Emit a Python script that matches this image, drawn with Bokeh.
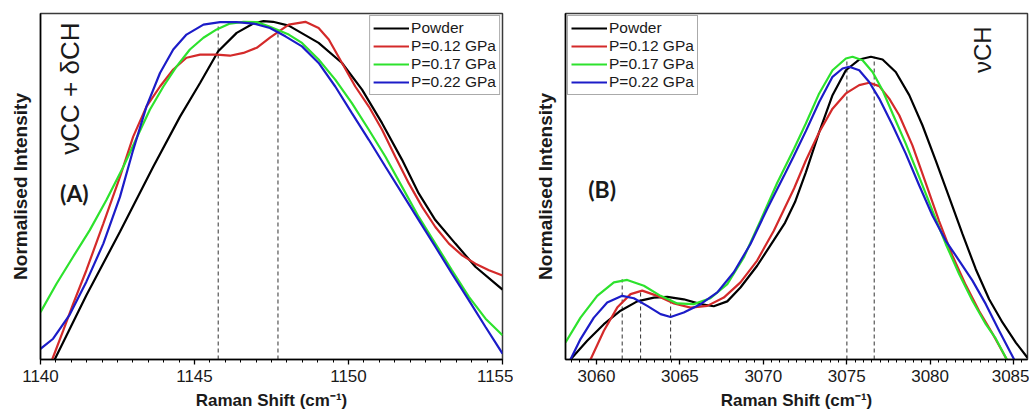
from bokeh.plotting import figure
from bokeh.layouts import row
from bokeh.models import Range1d, Label, SingleIntervalTicker, FixedTicker
from bokeh.embed import file_html
from bokeh.resources import INLINE

# ---------------- data ----------------
series_names = ["Powder", "P=0.12 GPa", "P=0.17 GPa", "P=0.22 GPa"]
series_colors = ["#000000", "#d42a2a", "#2de22d", "#1c1cc8"]

# Panel A : nuCC + deltaCH region
a_powder_x = [1140.46, 1141.49, 1142.58, 1143.66, 1144.53, 1145.18, 1145.77, 1146.37, 1146.91, 1147.24,
              1147.55, 1148.06, 1149.03, 1149.79, 1150.44, 1151.09, 1151.74, 1152.28, 1152.82, 1153.47,
              1154.12, 1155.0]
a_powder_y = [0.0, 0.186, 0.369, 0.557, 0.702, 0.799, 0.891, 0.944, 0.971, 0.978,
              0.976, 0.965, 0.915, 0.857, 0.780, 0.683, 0.577, 0.480, 0.403, 0.335,
              0.268, 0.202]

a_p012_x = [1140.38, 1140.74, 1141.06, 1141.49, 1142.04, 1142.58, 1143.01, 1143.44, 1143.88, 1144.31,
            1144.74, 1145.18, 1145.72, 1146.15, 1146.59, 1147.02, 1147.45, 1148.06, 1148.60, 1149.03,
            1149.36, 1149.79, 1150.22, 1150.66, 1151.09, 1151.52, 1151.96, 1152.39, 1152.82, 1153.26,
            1153.69, 1154.12, 1154.56, 1155.0]
a_p012_y = [0.0, 0.084, 0.161, 0.258, 0.393, 0.528, 0.644, 0.731, 0.789, 0.838,
            0.872, 0.881, 0.881, 0.878, 0.886, 0.901, 0.930, 0.968, 0.976, 0.958,
            0.925, 0.857, 0.789, 0.731, 0.664, 0.586, 0.509, 0.441, 0.383, 0.335,
            0.301, 0.277, 0.258, 0.243]

a_p017_x = [1140.0, 1140.52, 1141.06, 1141.60, 1142.14, 1142.69, 1143.12, 1143.55, 1143.99, 1144.42,
            1144.85, 1145.29, 1145.72, 1146.15, 1146.59, 1147.02, 1147.41, 1148.06, 1148.49, 1149.03,
            1149.57, 1150.11, 1150.66, 1151.20, 1151.74, 1152.28, 1152.82, 1153.36, 1153.91, 1154.45,
            1155.0]
a_p017_y = [0.137, 0.219, 0.297, 0.374, 0.461, 0.557, 0.640, 0.722, 0.789, 0.847,
            0.896, 0.930, 0.954, 0.971, 0.976, 0.975, 0.963, 0.939, 0.915, 0.867,
            0.809, 0.741, 0.664, 0.586, 0.499, 0.412, 0.335, 0.258, 0.181, 0.118,
            0.070]

a_p022_x = [1140.0, 1140.41, 1140.95, 1141.49, 1142.04, 1142.58, 1143.01, 1143.44, 1143.88, 1144.31,
            1144.74, 1145.29, 1145.83, 1146.37, 1146.91, 1147.45, 1147.95, 1148.49, 1149.03, 1149.57,
            1150.11, 1150.66, 1151.20, 1151.74, 1152.28, 1152.82, 1153.36, 1153.91, 1154.45, 1155.0]
a_p022_y = [0.031, 0.060, 0.130, 0.225, 0.335, 0.470, 0.606, 0.731, 0.828, 0.896,
            0.939, 0.968, 0.975, 0.975, 0.971, 0.958, 0.934, 0.905, 0.857, 0.789,
            0.712, 0.635, 0.557, 0.480, 0.403, 0.326, 0.248, 0.171, 0.094, 0.017]

a_peak_x = [1145.77, 1147.71]
a_peak_top = [0.968, 0.940]

# Panel B : nuCH region
b_powder_x = [3058.44, 3059.44, 3060.44, 3061.44, 3062.44, 3063.44, 3064.24, 3065.23, 3066.24, 3067.03,
              3067.84, 3068.63, 3069.63, 3070.63, 3071.30, 3071.90, 3072.55, 3073.35, 3074.15, 3074.95,
              3075.75, 3076.45, 3077.15, 3077.94, 3078.75, 3079.54, 3080.34, 3081.14, 3081.94, 3082.74,
              3083.54, 3084.34, 3085.14, 3085.84]
b_powder_y = [0.0, 0.054, 0.102, 0.141, 0.168, 0.179, 0.181, 0.174, 0.160, 0.154,
              0.168, 0.208, 0.271, 0.345, 0.395, 0.455, 0.541, 0.657, 0.764, 0.836,
              0.867, 0.875, 0.867, 0.831, 0.764, 0.677, 0.575, 0.469, 0.363, 0.261,
              0.174, 0.107, 0.049, 0.005]

b_p012_x = [3059.64, 3060.44, 3061.24, 3062.04, 3062.74, 3063.64, 3064.64, 3065.64, 3066.64, 3067.63,
            3068.63, 3069.63, 3070.63, 3071.85, 3072.55, 3073.35, 3074.15, 3074.95, 3075.75, 3076.35,
            3076.95, 3077.55, 3078.15, 3078.94, 3079.74, 3080.54, 3081.34, 3082.14, 3082.94, 3083.74,
            3084.60]
b_p012_y = [0.0, 0.083, 0.150, 0.189, 0.199, 0.184, 0.162, 0.150, 0.155, 0.179,
            0.223, 0.286, 0.372, 0.495, 0.575, 0.657, 0.725, 0.769, 0.793, 0.800,
            0.790, 0.754, 0.706, 0.619, 0.510, 0.400, 0.300, 0.215, 0.140, 0.075,
            0.0]

b_p017_x = [3058.14, 3059.04, 3060.04, 3061.04, 3061.84, 3062.84, 3063.84, 3064.84, 3065.83, 3066.83,
            3067.84, 3068.83, 3069.83, 3070.83, 3071.85, 3072.55, 3073.35, 3074.15, 3074.95, 3075.35,
            3075.95, 3076.55, 3077.15, 3077.75, 3078.54, 3079.35, 3080.14, 3080.94, 3081.74, 3082.54,
            3083.34, 3083.94, 3084.60]
b_p017_y = [0.049, 0.121, 0.184, 0.223, 0.230, 0.213, 0.184, 0.162, 0.160, 0.177,
            0.218, 0.295, 0.401, 0.510, 0.610, 0.682, 0.769, 0.836, 0.870, 0.875,
            0.865, 0.831, 0.778, 0.711, 0.624, 0.527, 0.430, 0.334, 0.247, 0.170,
            0.102, 0.060, 0.0]

b_p022_x = [3058.44, 3059.04, 3059.84, 3060.64, 3061.54, 3062.24, 3063.04, 3063.84, 3064.44, 3065.23,
            3066.24, 3067.24, 3068.23, 3069.23, 3070.23, 3071.23, 3071.80, 3072.55, 3073.35, 3074.15,
            3074.75, 3075.15, 3075.75, 3076.35, 3076.95, 3077.75, 3078.54, 3079.35, 3080.14, 3080.94,
            3081.74, 3082.54, 3083.34, 3084.14, 3085.04]
b_p022_y = [0.0, 0.059, 0.121, 0.165, 0.184, 0.177, 0.155, 0.131, 0.123, 0.136,
            0.160, 0.194, 0.252, 0.334, 0.435, 0.530, 0.585, 0.660, 0.744, 0.817,
            0.841, 0.846, 0.836, 0.802, 0.754, 0.677, 0.595, 0.503, 0.416, 0.343,
            0.286, 0.228, 0.160, 0.083, 0.0]

b_peak_x = [3061.54, 3062.64, 3064.44, 3075.01, 3076.65]
b_peak_top = [0.232, 0.200, 0.180, 0.870, 0.875]

a_xlim = (1140.0, 1155.0)
b_xlim = (3058.14, 3085.84)

FONT = "Liberation Sans"


def style(p):
    p.grid.visible = False
    p.outline_line_color = "#3a3a3a"
    p.outline_line_width = 1.5
    p.background_fill_color = "white"
    p.border_fill_color = "white"

    ax = p.xaxis[0]
    ax.ticker = SingleIntervalTicker(interval=5, num_minor_ticks=10)
    ax.axis_line_color = "black"
    ax.axis_line_width = 1.5
    ax.major_tick_in = 0
    ax.major_tick_out = 5
    ax.minor_tick_in = 0
    ax.minor_tick_out = 3
    ax.major_tick_line_width = 1.3
    ax.minor_tick_line_width = 1.0
    ax.major_label_text_font = FONT
    ax.major_label_text_font_size = "17px"
    ax.major_label_text_color = "#1a1a1a"
    ax.major_label_standoff = 5
    ax.axis_label = "Raman Shift (cm\u207b\u00b9)"
    ax.axis_label_text_font = FONT
    ax.axis_label_text_font_style = "bold"
    ax.axis_label_text_font_size = "17px"
    ax.axis_label_text_color = "#1a1a1a"
    ax.axis_label_standoff = 6

    ay = p.yaxis[0]
    ay.ticker = FixedTicker(ticks=[])
    ay.axis_line_color = "black"
    ay.axis_line_width = 1.5
    ay.major_tick_in = 0
    ay.major_tick_out = 0
    ay.minor_tick_in = 0
    ay.minor_tick_out = 0
    ay.major_label_standoff = 0
    ay.axis_label = "Normalised Intensity"
    ay.axis_label_text_font = FONT
    ay.axis_label_text_font_style = "bold"
    ay.axis_label_text_font_size = "19px"
    ay.axis_label_text_color = "#1a1a1a"
    ay.axis_label_standoff = 10


def add_curves(p, xs, ys, peak_x, peak_top):
    p.segment(x0=peak_x, y0=[0.0] * len(peak_x), x1=peak_x, y1=peak_top,
              line_color="#444444", line_width=1.1, line_dash="4 3")
    for name, color, x, y in zip(series_names, series_colors, xs, ys):
        p.line(x, y, line_color=color, line_width=2.2, legend_label=name)


def style_legend(p, loc):
    lg = p.legend[0]
    lg.location = loc
    lg.margin = 2
    lg.padding = 3
    lg.spacing = 0
    lg.label_height = 18
    lg.glyph_height = 18
    lg.glyph_width = 36
    lg.label_standoff = 2
    lg.label_text_font = FONT
    lg.label_text_font_size = "15.5px"
    lg.label_text_color = "#1a1a1a"
    lg.border_line_color = "#555555"
    lg.border_line_width = 1.5
    lg.background_fill_alpha = 1.0


# ---------------- panel A ----------------
pA = figure(width=513, height=414, x_range=Range1d(*a_xlim), y_range=Range1d(0, 1),
            output_backend="svg", toolbar_location=None,
            min_border_left=40, min_border_right=11, min_border_top=13, min_border_bottom=55)
style(pA)
add_curves(pA, [a_powder_x, a_p012_x, a_p017_x, a_p022_x],
           [a_powder_y, a_p012_y, a_p017_y, a_p022_y], a_peak_x, a_peak_top)
style_legend(pA, "top_right")

pA.add_layout(Label(x=1140.97, y=0.974, text="\u03bdCC + \u03b4CH", angle=90, angle_units="deg",
                    text_align="right", text_baseline="middle", text_font=FONT,
                    text_font_size="26px", text_color="#1a1a1a"))
pA.add_layout(Label(x=1141.10, y=0.481, text="(A)", text_align="center", text_baseline="middle",
                    text_font="Lato", text_font_style="bold", text_font_size="23px",
                    text_color="#1a1a1a"))

# ---------------- panel B ----------------
pB = figure(width=516, height=414, x_range=Range1d(*b_xlim), y_range=Range1d(0, 1),
            output_backend="svg", toolbar_location=None,
            min_border_left=52, min_border_right=2, min_border_top=13, min_border_bottom=55)
style(pB)
add_curves(pB, [b_powder_x, b_p012_x, b_p017_x, b_p022_x],
           [b_powder_y, b_p012_y, b_p017_y, b_p022_y], b_peak_x, b_peak_top)
style_legend(pB, "top_left")

pB.add_layout(Label(x=3083.14, y=0.963, text="\u03bdCH", angle=90, angle_units="deg",
                    text_align="right", text_baseline="middle", text_font=FONT,
                    text_font_size="24px", text_color="#1a1a1a"))
pB.add_layout(Label(x=3060.34, y=0.493, text="(B)", text_align="center", text_baseline="middle",
                    text_font="Lato", text_font_style="bold", text_font_size="23px",
                    text_color="#1a1a1a"))

layout = row(pA, pB)
open("out.html", "w").write(file_html(layout, INLINE))
